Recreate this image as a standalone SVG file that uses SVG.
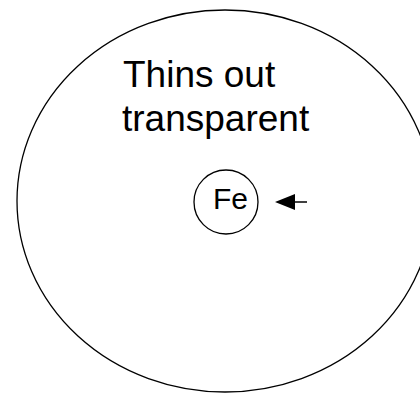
<svg xmlns="http://www.w3.org/2000/svg" width="420" height="393" viewBox="0 0 420 393">
  <style>
    .outline { fill: none; stroke: #000; stroke-width: 1.3; }
    .label { font-family: "Liberation Sans", Arial, sans-serif; fill: #000; }
  </style>
  <rect width="420" height="393" fill="#fff"/>
  <g id="cell">
    <ellipse class="outline" cx="225" cy="201" rx="208" ry="191"/>
    <text class="label" x="123" y="87" font-size="37">Thins out</text>
    <text class="label" x="122" y="131" font-size="37">transparent</text>
  </g>
  <g id="fe">
    <circle class="outline" cx="226" cy="202" r="32"/>
    <text class="label" x="213" y="209" font-size="30">Fe</text>
  </g>
  <g id="connectors">
    <line x1="307" y1="202" x2="292" y2="202" stroke="#000" stroke-width="1.5"/>
    <path d="M275,202 L295,194 L295,210 z" fill="#000"/>
  </g>
</svg>
